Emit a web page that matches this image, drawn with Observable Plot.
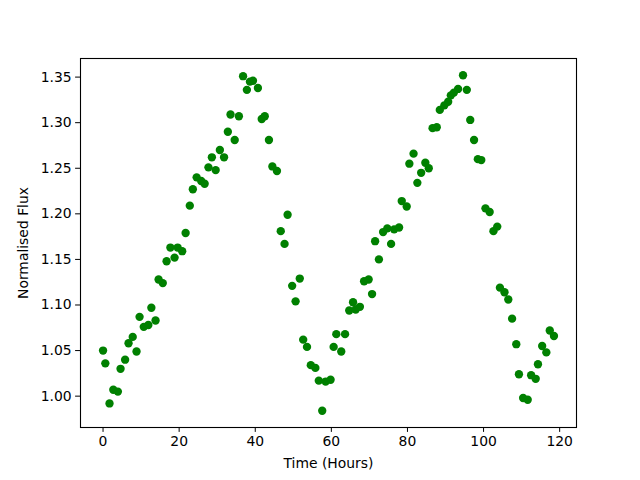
<!DOCTYPE html>
<html>
<head>
<meta charset="utf-8">
<script src="https://cdn.jsdelivr.net/npm/d3@7"></script>
<script src="https://cdn.jsdelivr.net/npm/@observablehq/plot@0.6"></script>
<style>
  html, body { margin: 0; padding: 0; background: white; }
  #chart { width: 640px; height: 480px; }
</style>
</head>
<body>
<div id="chart"></div>
<script>
const timeHours = [
  0, 0.6, 1.7, 2.7, 3.9, 4.6, 5.8, 6.7, 7.8, 8.8,
  9.6, 10.7, 11.9, 12.7, 13.8, 14.6, 15.7, 16.7, 17.7, 18.8,
  19.6, 20.8, 21.7, 22.8, 23.6, 24.6, 25.8, 26.7, 27.7, 28.6,
  29.6, 30.7, 31.8, 32.8, 33.5, 34.6, 35.7, 36.8, 37.8, 38.6,
  39.4, 40.7, 41.7, 42.5, 43.6, 44.5, 45.7, 46.7, 47.7, 48.5,
  49.7, 50.6, 51.7, 52.6, 53.6, 54.6, 55.8, 56.7, 57.6, 58.5,
  59.8, 60.6, 61.3, 62.6, 63.6, 64.7, 65.7, 66.4, 67.5, 68.6,
  69.8, 70.7, 71.5, 72.5, 73.6, 74.7, 75.7, 76.5, 77.8, 78.5,
  79.8, 80.5, 81.6, 82.6, 83.6, 84.7, 85.6, 86.6, 87.7, 88.5,
  89.7, 90.7, 91.4, 92.2, 93.3, 94.6, 95.6, 96.5, 97.5, 98.5,
  99.4, 100.5, 101.6, 102.6, 103.6, 104.3, 105.5, 106.5, 107.5, 108.6,
  109.3, 110.4, 111.6, 112.5, 113.7, 114.3, 115.4, 116.5, 117.4, 118.5
];
const normalisedFlux = [
  1.050, 1.036, 0.992, 1.007, 1.005, 1.030, 1.040, 1.058, 1.065, 1.049,
  1.087, 1.076, 1.078, 1.097, 1.083, 1.128, 1.124, 1.148, 1.163, 1.152,
  1.163, 1.159, 1.179, 1.209, 1.227, 1.240, 1.236, 1.233, 1.251, 1.262,
  1.248, 1.270, 1.262, 1.290, 1.309, 1.281, 1.307, 1.351, 1.336, 1.345,
  1.346, 1.338, 1.304, 1.307, 1.281, 1.252, 1.247, 1.181, 1.167, 1.199,
  1.121, 1.104, 1.129, 1.062, 1.054, 1.034, 1.031, 1.017, 0.984, 1.016,
  1.018, 1.054, 1.068, 1.049, 1.068, 1.094, 1.103, 1.095, 1.098, 1.126,
  1.128, 1.112, 1.170, 1.150, 1.180, 1.184, 1.167, 1.183, 1.185, 1.214,
  1.208, 1.255, 1.266, 1.234, 1.245, 1.256, 1.250, 1.294, 1.295, 1.314,
  1.319, 1.323, 1.330, 1.333, 1.337, 1.352, 1.336, 1.303, 1.281, 1.260,
  1.259, 1.206, 1.202, 1.181, 1.186, 1.119, 1.114, 1.106, 1.085, 1.057,
  1.024, 0.998, 0.996, 1.023, 1.019, 1.035, 1.055, 1.048, 1.072, 1.066
];
const xTicks = [0, 20, 40, 60, 80, 100, 120];
const yTicks = [1.00, 1.05, 1.10, 1.15, 1.20, 1.25, 1.30, 1.35];
const xLabel = "Time (Hours)";
const yLabel = "Normalised Flux";

const data = timeHours.map((t, i) => ({t, f: normalisedFlux[i]}));

function padded(vals) {
  const [lo, hi] = d3.extent(vals);
  const p = (hi - lo) * 0.05;
  return [lo - p, hi + p];
}

const chart = Plot.plot({
  width: 640,
  height: 480,
  marginLeft: 80,
  marginRight: 64,
  marginTop: 58,
  marginBottom: 53,
  style: {fontFamily: "DejaVu Sans", fontSize: "13.9px", background: "white", color: "black"},
  x: {domain: padded(timeHours)},
  y: {domain: padded(normalisedFlux)},
  marks: [
    Plot.dot(data, {x: "t", y: "f", r: 4.17, fill: "#008000", stroke: null}),
    Plot.frame({stroke: "black", strokeWidth: 1.1}),
    Plot.axisX({ticks: xTicks, tickSize: 4.9, tickPadding: 4, fontSize: 13.9,
      label: xLabel, labelAnchor: "center", labelOffset: 40, labelArrow: "none"}),
    Plot.axisY({ticks: yTicks, tickFormat: d3.format(".2f"), tickSize: 4.9, tickPadding: 4, fontSize: 13.9,
      label: yLabel, labelAnchor: "center", labelOffset: 62, labelArrow: "none"})
  ]
});
document.getElementById("chart").appendChild(chart);
</script>
</body>
</html>
